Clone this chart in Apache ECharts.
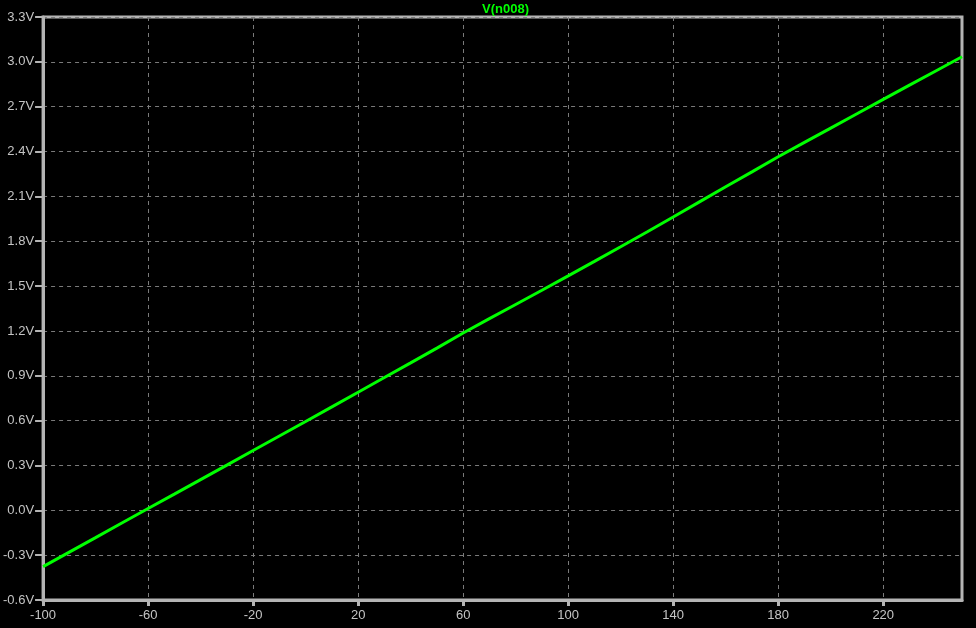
<!DOCTYPE html>
<html>
<head>
<meta charset="utf-8">
<script src="https://cdn.jsdelivr.net/npm/echarts@6/dist/echarts.min.js"></script>
<style>
html,body{margin:0;padding:0;background:#000;}
#c{width:976px;height:628px;}
</style>
</head>
<body>
<div id="c"></div>
<script>
// Temperature sweep (x) and node voltage V(n008) (y)
const temps = [-100,-90,-80,-70,-60,-50,-40,-30,-20,-10,0,10,20,30,40,50,60,70,80,90,100,110,120,130,140,150,160,170,180,190,200,210,220,230,240,250];
const volts = [-0.377,-0.280,-0.183,-0.085,0.012,0.108,0.205,0.302,0.400,0.497,0.594,0.692,0.790,0.888,0.986,1.085,1.186,1.282,1.377,1.472,1.568,1.665,1.763,1.862,1.962,2.063,2.164,2.264,2.365,2.461,2.557,2.653,2.749,2.844,2.939,3.034];
const xTicks = [-100,-60,-20,20,60,100,140,180,220];
const seriesName = 'V(n008)';

const chart = echarts.init(document.getElementById('c'));
const gray = '#b4b4b4';
const labelColor = '#c4c4c4';
const gridColor = '#7a7a7a';
chart.setOption({
  backgroundColor: '#000',
  animation: false,
  title: {
    text: seriesName,
    left: 477, top: -2,
    textStyle: {color: '#00ff00', fontFamily: 'Liberation Sans', fontSize: 13, fontWeight: 'bold'}
  },
  grid: {
    left: 41, right: 14, top: 17, bottom: 28,
    show: true, borderColor: gray, borderWidth: 3, backgroundColor: '#000'
  },
  xAxis: {
    type: 'value', min: -100, max: 250, interval: 40,
    axisLine: {show: true, onZero: false, lineStyle: {color: gray, width: 3}},
    axisTick: {show: true, length: 6, lineStyle: {color: gray, width: 3}, customValues: xTicks},
    axisLabel: {color: labelColor, fontFamily: 'Liberation Sans', fontSize: 13, margin: 9,
      customValues: xTicks},
    splitLine: {show: true, lineStyle: {color: gridColor, width: 1, type: [4, 4]}}
  },
  yAxis: {
    type: 'value', min: -0.6, max: 3.3, interval: 0.3,
    axisLine: {show: true, onZero: false, lineStyle: {color: gray, width: 3}},
    axisTick: {show: true, length: 8, lineStyle: {color: gray, width: 2}},
    axisLabel: {color: labelColor, fontFamily: 'Liberation Sans', fontSize: 13, margin: 9,
      formatter: v => (Math.round(v * 10) / 10).toFixed(1) + 'V'},
    splitLine: {show: true, lineStyle: {color: gridColor, width: 1, type: [4, 4]}}
  },
  series: [{
    name: seriesName, type: 'line', showSymbol: false,
    data: temps.map((t, i) => [t, volts[i]]),
    lineStyle: {color: '#00ff00', width: 3},
    clip: true
  }]
});
</script>
</body>
</html>
